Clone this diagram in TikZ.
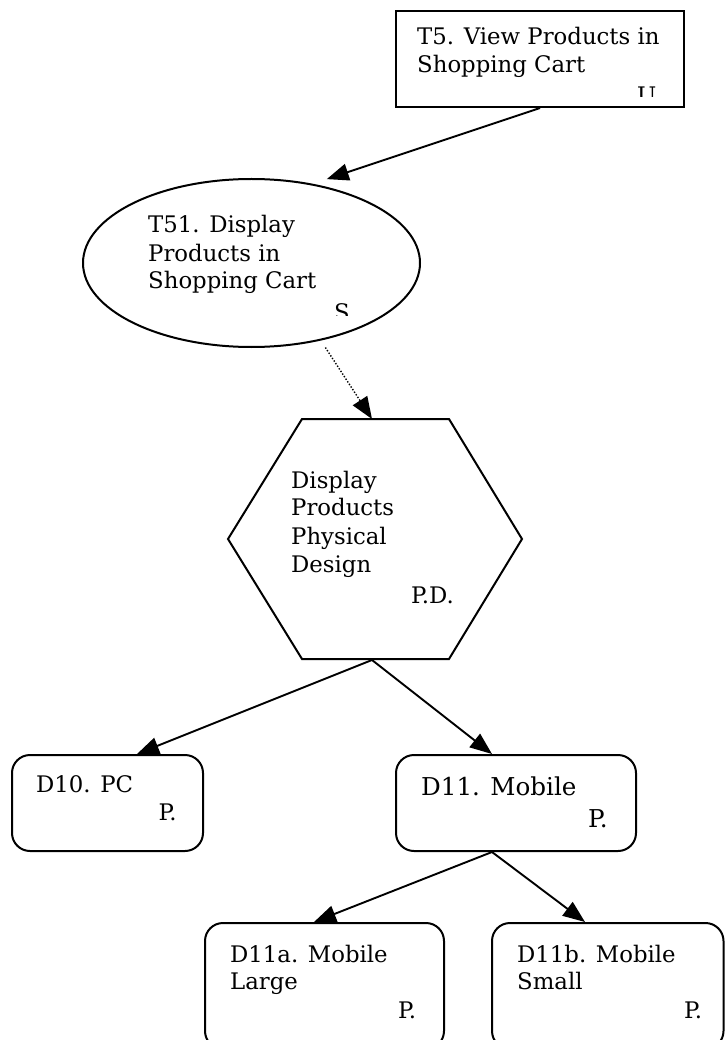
\documentclass[tikz,border=0pt]{standalone}
\usepackage{fontspec}
\setmainfont{DejaVu Serif}
\usetikzlibrary{arrows.meta,shapes.geometric,calc}

\begin{document}
\begin{tikzpicture}[x=1pt,y=-1pt,
  outline/.style={draw=black, line width=2pt},
  taskbox/.style={outline, rectangle, inner sep=0pt},
  devbox/.style={outline, rectangle, rounded corners=18pt, inner sep=0pt},
  link/.style={line width=1.9pt, -{Triangle[length=22pt,width=17pt]}},
  refine/.style={line width=1.4pt, dash pattern=on 1.4pt off 1.7pt, -{Triangle[length=22pt,width=17pt]}},
  lbl/.style={anchor=base west, inner sep=0pt, font=\fontsize{22.8}{28}\selectfont},
  big/.style={lbl, font=\fontsize{24.6}{28}\selectfont}]

\useasboundingbox (0,0) rectangle (725,1040);
\clip (0,0) rectangle (725,1040);

% task T5
\node[taskbox, minimum width=288pt, minimum height=96pt] (t5) at (540,59) {};
\node[lbl] (t5a) at (417,45) {T5. View Products in};
\node[lbl] (t5b) at (417,73) {Shopping Cart};
\begin{scope}
  \clip (600,80) rectangle (680,97);
  \node[lbl] (t5u) at (637,104) {U};
\end{scope}

% subtask T51
\node[outline, ellipse, minimum width=337pt, minimum height=168pt, inner sep=0pt] (t51) at (251.5,263) {};
\node[lbl] (t51a) at (148,233) {T51. Display};
\node[lbl] (t51b) at (148,262) {Products in};
\node[lbl] (t51c) at (148,289) {Shopping Cart};
\begin{scope}
  \clip (320,290) rectangle (360,315);
  \node[lbl] (t51s) at (334,320) {S};
\end{scope}

% physical design hexagon
\draw[outline] (302,419) -- (449,419) -- (522,539) -- (449,659) -- (302,659) -- (228,539) -- cycle;
\coordinate (pdtop) at (372,419);
\coordinate (pdbot) at (372,660);
\node[lbl] (pda) at (291,488) {Display};
\node[lbl] (pdb) at (291,515) {Products};
\node[lbl] (pdc) at (291,544) {Physical};
\node[lbl] (pdd) at (291,572) {Design};
\node[lbl] (pde) at (411,603) {P.D.};

% device variants
\node[devbox, minimum width=191pt, minimum height=96pt] (d10) at (107.5,803) {};
\node[lbl] (d10a) at (36,792) {D10. PC};
\node[lbl] (d10p) at (158.5,820) {P.};

\node[devbox, minimum width=240pt, minimum height=96pt] (d11) at (516,803) {};
\node[big] (d11a) at (421,795) {D11. Mobile};
\node[big] (d11p) at (588,827) {P.};

\node[devbox, minimum width=239pt, minimum height=126pt] (d11l) at (324.5,986) {};
\node[lbl] (d11la) at (230,962) {D11a. Mobile};
\node[lbl] (d11lb) at (230,989) {Large};
\node[lbl] (d11lp) at (398,1018) {P.};

\node[devbox, minimum width=231.5pt, minimum height=126pt] (d11s) at (607.75,986) {};
\node[lbl] (d11sa) at (517,962) {D11b. Mobile};
\node[lbl] (d11sb) at (517,989) {Small};
\node[lbl] (d11sp) at (684,1018) {P.};

% connectors
\draw[link] (t5.south) -- ([shift={(5.5,-6.4)}]t51.48);
\draw[refine] ([shift={(0,8)}]t51.-46) -- (pdtop);
\draw[link] (pdbot) -- ([xshift=29.5pt]d10.north);
\draw[link] (pdbot) -- ([xshift=-24pt]d11.north);
\draw[link] ([xshift=-24pt]d11.south) -- ([xshift=-10.5pt]d11l.north);
\draw[link] ([xshift=-24pt]d11.south) -- ([xshift=-22.75pt]d11s.north);
\end{tikzpicture}
\end{document}
